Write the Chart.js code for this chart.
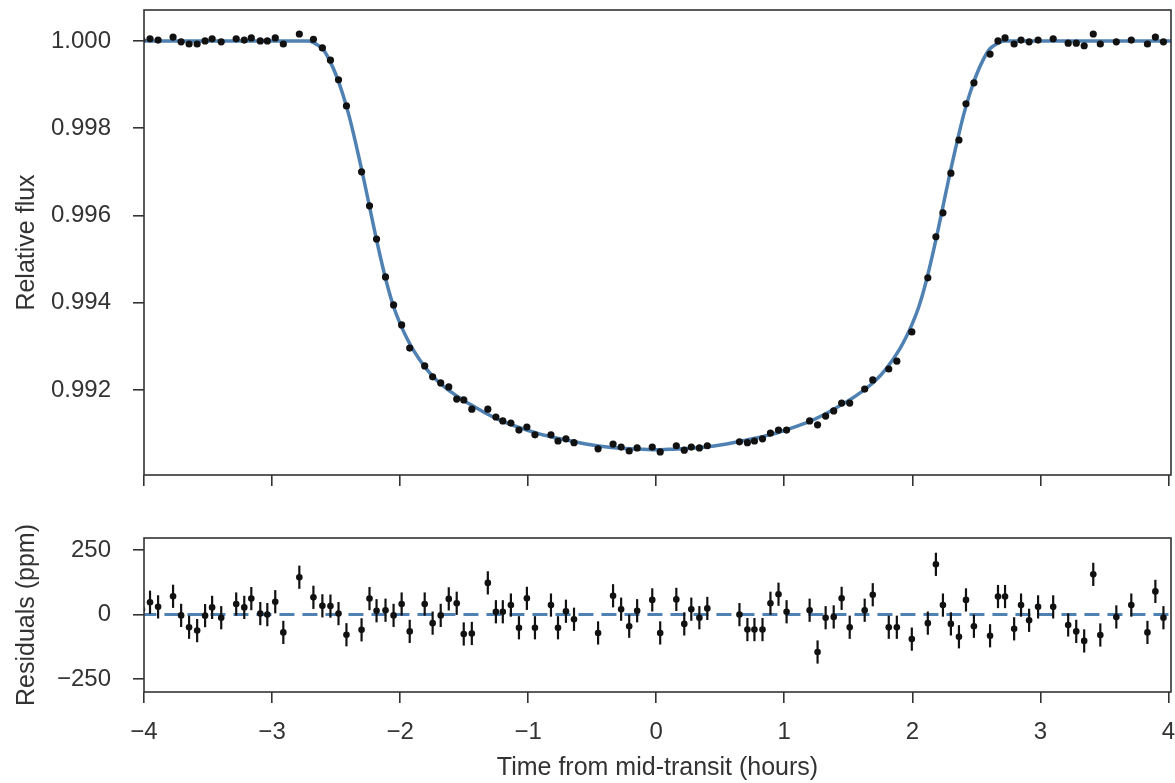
<!DOCTYPE html>
<html>
<head>
<meta charset="utf-8">
<script src="https://cdn.jsdelivr.net/npm/chart.js@4.4.1/dist/chart.umd.min.js"></script>
<style>
  html, body { margin: 0; padding: 0; background: #fff; }
  #wrap { position: relative; width: 1175px; height: 783px; overflow: hidden; }
  canvas { position: absolute; left: 0; }
  #fluxChart { top: 0; }
  #residChart { top: 500px; }
</style>
</head>
<body>
<div id="wrap">
  <canvas id="fluxChart" width="1175" height="500"></canvas>
  <canvas id="residChart" width="1175" height="283"></canvas>
</div>
<script>
// observation times (hours from mid-transit)
const times = [-4.016, -3.953, -3.890, -3.773, -3.710, -3.648, -3.585, -3.523, -3.468, -3.397,
  -3.280, -3.217, -3.162, -3.092, -3.037, -2.975, -2.912, -2.787, -2.677, -2.607,
  -2.544, -2.481, -2.419, -2.301, -2.239, -2.184, -2.114, -2.051, -1.988, -1.925,
  -1.808, -1.746, -1.683, -1.620, -1.558, -1.503, -1.440, -1.315, -1.252, -1.198,
  -1.135, -1.072, -1.010, -0.947, -0.822, -0.767, -0.705, -0.642, -0.454, -0.337,
  -0.274, -0.211, -0.149, -0.031, 0.031, 0.157, 0.219, 0.274, 0.337, 0.399,
  0.650, 0.712, 0.767, 0.830, 0.892, 0.955, 1.018, 1.198, 1.260, 1.323,
  1.386, 1.448, 1.511, 1.628, 1.691, 1.816, 1.879, 1.996, 2.121, 2.184,
  2.239, 2.301, 2.364, 2.419, 2.481, 2.607, 2.669, 2.724, 2.795, 2.849,
  2.912, 2.982, 3.100, 3.217, 3.280, 3.342, 3.413, 3.468, 3.593, 3.710,
  3.836, 3.898, 3.961];

// measured relative flux
const flux = [1.00002, 1.00005, 1.00002, 1.00009, 0.99998, 0.99993, 0.99993, 1.00000, 1.00005, 0.99998,
  1.00005, 1.00002, 1.00007, 1.00000, 1.00000, 1.00007, 0.99993, 1.00016, 1.00004, 0.99984,
  0.99956, 0.99911, 0.99851, 0.99700, 0.99622, 0.99546, 0.99459, 0.99395, 0.99349, 0.99296,
  0.99255, 0.99230, 0.99216, 0.99207, 0.99179, 0.99177, 0.99156, 0.99156, 0.99138, 0.99129,
  0.99124, 0.99108, 0.99115, 0.99097, 0.99097, 0.99083, 0.99088, 0.99079, 0.99065, 0.99076,
  0.99069, 0.99060, 0.99067, 0.99069, 0.99058, 0.99072, 0.99062, 0.99069, 0.99067, 0.99072,
  0.99081, 0.99079, 0.99083, 0.99088, 0.99101, 0.99108, 0.99108, 0.99129, 0.99120, 0.99140,
  0.99152, 0.99170, 0.99170, 0.99202, 0.99223, 0.99248, 0.99266, 0.99333, 0.99457, 0.99551,
  0.99606, 0.99697, 0.99773, 0.99856, 0.99904, 0.99970, 1.00000, 1.00007, 0.99993, 1.00002,
  0.99998, 1.00002, 1.00005, 0.99995, 0.99995, 0.99989, 1.00016, 0.99993, 0.99998, 1.00002,
  0.99993, 1.00009, 0.99998];

// residuals (ppm) and their uncertainty
const residuals = [21, 48, 30, 71, -3, -49, -62, -4, 28, -12,
  41, 28, 62, 4, 0, 50, -69, 145, 67, 34,
  33, 4, -78, -59, 62, 15, 17, -3, 41, -65,
  41, -33, -3, 61, 44, -75, -73, 123, 11, 11,
  37, -51, 63, -51, 37, -51, 13, -18, -71, 73,
  21, -45, 15, 57, -71, 59, -36, 21, -12, 24,
  0, -58, -58, -58, 44, 79, 11, 17, -145, -12,
  -9, 63, -49, 17, 77, -49, -49, -95, -33, 195,
  37, -36, -86, 57, -45, -82, 70, 70, -55, 37,
  -22, 30, 30, -40, -65, -102, 156, -79, -9, 37,
  -69, 90, -12];
const residErr = 45;

// best-fit transit model
const modelTime = [-4.02, -2.72, -2.68, -2.64, -2.60, -2.55, -2.50, -2.45, -2.40, -2.35,
  -2.30, -2.25, -2.20, -2.15, -2.10, -2.05, -2.00, -1.95, -1.90, -1.80,
  -1.70, -1.60, -1.50, -1.40, -1.30, -1.20, -1.10, -1.00, -0.90, -0.80,
  -0.70, -0.60, -0.50, -0.40, -0.30, -0.20, -0.10, 0.00, 0.10, 0.20,
  0.30, 0.40, 0.50, 0.60, 0.70, 0.80, 0.90, 1.00, 1.10, 1.20,
  1.30, 1.40, 1.50, 1.60, 1.70, 1.80, 1.90, 1.95, 2.00, 2.05,
  2.10, 2.15, 2.20, 2.25, 2.30, 2.35, 2.40, 2.45, 2.50, 2.55,
  2.60, 2.64, 2.68, 2.72, 4.02];
const modelFlux = [1.00000, 1.00000, 0.99997, 0.99990, 0.99980, 0.99955, 0.99922, 0.99880, 0.99830, 0.99770,
  0.99705, 0.99636, 0.99566, 0.99500, 0.99440, 0.99390, 0.99352, 0.99320, 0.99293, 0.99250,
  0.99218, 0.99195, 0.99175, 0.99158, 0.99142, 0.99128, 0.99117, 0.99107, 0.99098, 0.99091,
  0.99085, 0.99079, 0.99074, 0.99070, 0.99067, 0.99065, 0.99064, 0.99063, 0.99064, 0.99065,
  0.99067, 0.99070, 0.99074, 0.99079, 0.99085, 0.99091, 0.99098, 0.99107, 0.99117, 0.99128,
  0.99142, 0.99158, 0.99175, 0.99195, 0.99218, 0.99250, 0.99293, 0.99320, 0.99352, 0.99390,
  0.99440, 0.99500, 0.99566, 0.99636, 0.99705, 0.99770, 0.99830, 0.99880, 0.99922, 0.99955,
  0.99980, 0.99990, 0.99997, 1.00000, 1.00000];

// zero line for residuals
const zeroTime = [-4.02, 4.02];
const zeroValue = [0, 0];

// tick labels
const xTicks = [-4, -3, -2, -1, 0, 1, 2, 3, 4];
const fluxTicks = [0.992, 0.994, 0.996, 0.998, 1.000];
const residTicks = [-250, 0, 250];

const ink = '#333333';
const blue = '#4f81b3';
const dotColor = '#111111';

Chart.defaults.font.family = "'Liberation Sans', Arial, sans-serif";
Chart.defaults.font.size = 24;
Chart.defaults.color = ink;

const minus = v => String(v).replace('-', '\u2212');

// box around the plot area
const frame = {
  id: 'frame',
  afterDraw(chart) {
    const { ctx, chartArea: a } = chart;
    ctx.save();
    ctx.strokeStyle = ink;
    ctx.lineWidth = 1.6;
    ctx.strokeRect(a.left, a.top, a.right - a.left, a.bottom - a.top);
    ctx.restore();
  }
};

// vertical error bars drawn right after the dashed zero line
const errorBars = {
  id: 'errorBars',
  afterDatasetDraw(chart, args) {
    if (args.index !== 0) return;
    const { ctx, chartArea: a, scales: { x, y } } = chart;
    ctx.save();
    ctx.beginPath();
    ctx.rect(a.left, a.top, a.right - a.left, a.bottom - a.top);
    ctx.clip();
    ctx.strokeStyle = dotColor;
    ctx.lineWidth = 2.2;
    times.forEach((t, i) => {
      const px = x.getPixelForValue(t);
      ctx.beginPath();
      ctx.moveTo(px, y.getPixelForValue(residuals[i] - residErr));
      ctx.lineTo(px, y.getPixelForValue(residuals[i] + residErr));
      ctx.stroke();
    });
    ctx.restore();
  }
};

const tickGrid = {
  drawOnChartArea: false,
  drawTicks: true,
  tickLength: 11,
  color: ink,
  lineWidth: 1.6
};

const xAxis = (showLabels, height) => ({
  type: 'linear',
  min: -4,
  max: 4.02,
  afterBuildTicks: s => { s.ticks = xTicks.map(v => ({ value: v })); },
  afterFit: s => { s.height = height; s.paddingLeft = 0; s.paddingRight = 0; },
  border: { display: false },
  grid: tickGrid,
  ticks: { display: showLabels, padding: 15, maxRotation: 0, callback: v => minus(v) },
  title: {
    display: showLabels,
    text: 'Time from mid-transit (hours)',
    font: { size: 25 },
    padding: { top: 0, bottom: 0 }
  }
});

const yAxis = (min, max, ticks, label, fmt) => ({
  min: min,
  max: max,
  afterBuildTicks: s => { s.ticks = ticks.map(v => ({ value: v })); },
  afterFit: s => { s.width = 144; s.paddingTop = 0; s.paddingBottom = 0; },
  border: { display: false },
  grid: tickGrid,
  ticks: { padding: 22, callback: fmt },
  title: { display: true, text: label, font: { size: 25 }, padding: { top: 12 } }
});

const baseOptions = {
  responsive: false,
  animation: false,
  events: [],
  plugins: { legend: { display: false }, tooltip: { enabled: false } }
};

new Chart(document.getElementById('fluxChart'), {
  type: 'scatter',
  data: {
    datasets: [
      {
        type: 'line',
        data: modelTime.map((t, i) => ({ x: t, y: modelFlux[i] })),
        borderColor: blue,
        borderWidth: 3.5,
        pointRadius: 0,
        cubicInterpolationMode: 'monotone',
        order: 2
      },
      {
        data: times.map((t, i) => ({ x: t, y: flux[i] })),
        backgroundColor: dotColor,
        borderWidth: 0,
        pointRadius: 3.6,
        clip: 0,
        order: 1
      }
    ]
  },
  options: {
    ...baseOptions,
    layout: { padding: { top: 10, right: 4, left: 0, bottom: 0 } },
    scales: {
      x: xAxis(false, 25),
      y: yAxis(0.99005, 1.00071, fluxTicks, 'Relative flux', v => v.toFixed(3))
    }
  },
  plugins: [frame]
});

new Chart(document.getElementById('residChart'), {
  type: 'scatter',
  data: {
    datasets: [
      {
        type: 'line',
        data: zeroTime.map((t, i) => ({ x: t, y: zeroValue[i] })),
        borderColor: blue,
        borderWidth: 3,
        borderDash: [15, 8],
        pointRadius: 0,
        order: 3
      },
      {
        data: times.map((t, i) => ({ x: t, y: residuals[i] })),
        backgroundColor: dotColor,
        borderWidth: 0,
        pointRadius: 3.3,
        clip: 0,
        order: 1
      }
    ]
  },
  options: {
    ...baseOptions,
    layout: { padding: { top: 38, right: 4, left: 0, bottom: 0 } },
    scales: {
      x: xAxis(true, 91),
      y: yAxis(-300, 297, residTicks, 'Residuals (ppm)', v => minus(v))
    }
  },
  plugins: [frame, errorBars]
});
</script>
</body>
</html>
